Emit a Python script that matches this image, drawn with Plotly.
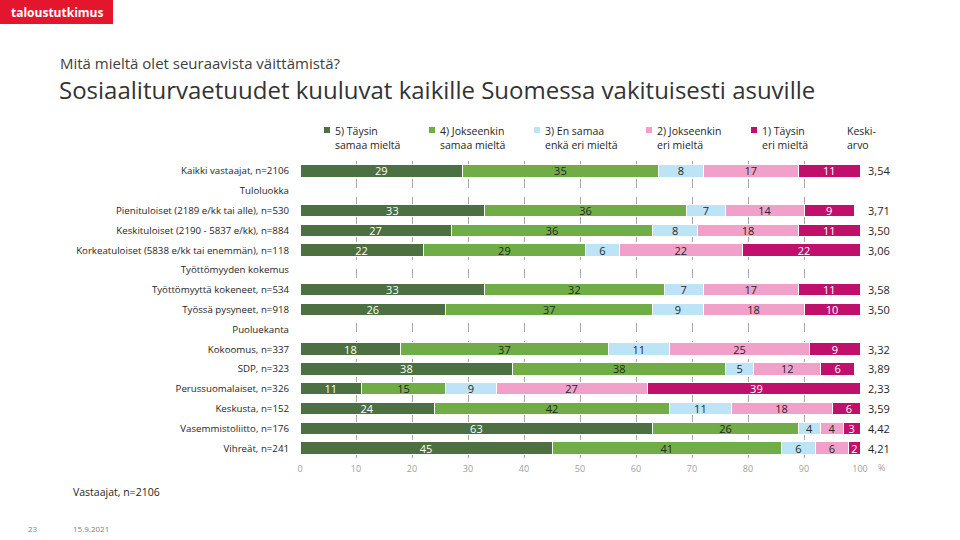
import plotly.graph_objects as go

# rivit ylhäältä alas (otsikkorivit ilman palkkeja)
rows = [
    "Kaikki vastaajat, n=2106",
    "Tuloluokka",
    "Pienituloiset (2189 e/kk tai alle), n=530",
    "Keskituloiset (2190 - 5837 e/kk), n=884",
    "Korkeatuloiset (5838 e/kk tai enemmän), n=118",
    "Työttömyyden kokemus",
    "Työttömyyttä kokeneet, n=534",
    "Työssä pysyneet, n=918",
    "Puoluekanta",
    "Kokoomus, n=337",
    "SDP, n=323",
    "Perussuomalaiset, n=326",
    "Keskusta, n=152",
    "Vasemmistoliitto, n=176",
    "Vihreät, n=241",
]
data_rows = [r for r in rows if "n=" in r]

series_names = [
    "5) Täysin<br>samaa mieltä",
    "4) Jokseenkin<br>samaa mieltä",
    "3) En samaa<br>enkä eri mieltä",
    "2) Jokseenkin<br>eri mieltä",
    "1) Täysin<br>eri mieltä",
]
s5 = [29, 33, 27, 22, 33, 26, 18, 38, 11, 24, 63, 45]
s4 = [35, 36, 36, 29, 32, 37, 37, 38, 15, 42, 26, 41]
s3 = [8, 7, 8, 6, 7, 9, 11, 5, 9, 11, 4, 6]
s2 = [17, 14, 18, 22, 17, 18, 25, 12, 27, 18, 4, 6]
s1 = [11, 9, 11, 22, 11, 10, 9, 6, 39, 6, 3, 2]
means = ["3,54", "3,71", "3,50", "3,06", "3,58", "3,50", "3,32", "3,89", "2,33", "3,59", "4,42", "4,21"]

colors = ["#4C7041", "#70AD47", "#BDE3F6", "#F1A1C9", "#C1106B"]
text_colors = ["white", "#262626", "#262626", "#262626", "white"]

FONT = "Open Sans"
W, H = 960, 540
L, R, T, B = 300, 100, 161, 82
pw, ph = W - L - R, H - T - B


def px(x):
    return (x - L) / pw


def py(y):
    return (H - B - y) / ph


def note(x, y, text, size, color="#262626", xanchor="left", yanchor="middle", **kw):
    fig.add_annotation(xref="paper", yref="paper", x=px(x), y=py(y), text=text,
                       xanchor=xanchor, yanchor=yanchor, align="left", showarrow=False,
                       font=dict(family=FONT, size=size, color=color), **kw)


fig = go.Figure()
for name, vals, c, tc in zip(series_names, [s5, s4, s3, s2, s1], colors, text_colors):
    fig.add_trace(go.Bar(
        y=data_rows, x=vals, name=name, orientation="h",
        marker=dict(color=c, line=dict(color="white", width=1)),
        text=[str(v) for v in vals], textposition="inside",
        insidetextanchor="middle", textangle=0,
        textfont=dict(family=FONT, size=11, color=tc),
        hoverinfo="x+y", showlegend=False,
    ))

# keskiarvot
for r, m in zip(data_rows, means):
    fig.add_annotation(xref="paper", yref="y", x=px(866), y=r, text=m,
                       xanchor="left", yanchor="middle", showarrow=False,
                       font=dict(family=FONT, size=11, color="#262626"))

# selite käsin
leg_sq = [327, 432, 537, 649, 754]
leg_tx = [333, 438, 543, 655, 760]
shapes = []
for sx, tx, name, c in zip(leg_sq, leg_tx, series_names, colors):
    shapes.append(dict(type="rect", xref="paper", yref="paper",
                       x0=px(sx - 3), x1=px(sx + 3), y0=py(133), y1=py(127),
                       fillcolor=c, line=dict(width=0)))
    note(tx, 137.5, name, 10.5)
note(845, 137.5, "Keski-<br>arvo", 10.5)

# logo
shapes.append(dict(type="rect", xref="paper", yref="paper", layer="below",
                   x0=px(0), x1=px(113), y0=py(24), y1=py(0),
                   fillcolor="#E3162E", line=dict(width=0)))
note(57, 12, "<b>taloustutkimus</b>", 12, color="white", xanchor="center")

# otsikot
note(58, 63, "Mitä mieltä olet seuraavista väittämistä?", 15, color="#404040")
note(57, 89, "Sosiaaliturvaetuudet kuuluvat kaikille Suomessa vakituisesti asuville", 24, color="#333333")

# alatekstit
note(876, 467, "%", 9, color="#A0A0A0")
note(71, 492, "Vastaajat, n=2106", 10.5)
note(26, 528, "23", 8, color="#808080")
note(71, 528, "15.9.2021", 8, color="#808080")

fig.update_layout(
    width=W, height=H,
    margin=dict(l=L, r=R, t=T, b=B),
    barmode="stack", bargap=0.38,
    uniformtext=dict(minsize=11, mode="show"),
    plot_bgcolor="white", paper_bgcolor="white",
    shapes=shapes,
    font=dict(family=FONT, color="#262626"),
    xaxis=dict(range=[0, 100], dtick=10, showgrid=True, gridcolor="#A6A6A6",
               griddash="dash", gridwidth=1, zeroline=False, showline=False,
               tickfont=dict(family=FONT, size=9, color="#A0A0A0"), ticklabelstandoff=4),
    yaxis=dict(type="category", categoryorder="array", categoryarray=rows,
               autorange="reversed", showgrid=False, showline=False, zeroline=False,
               tickfont=dict(family=FONT, size=9.7, color="#262626"), ticklabelstandoff=10),
)

fig.write_html("out.html", config={"displayModeBar": False},
               post_script="document.body.style.margin='0';")
